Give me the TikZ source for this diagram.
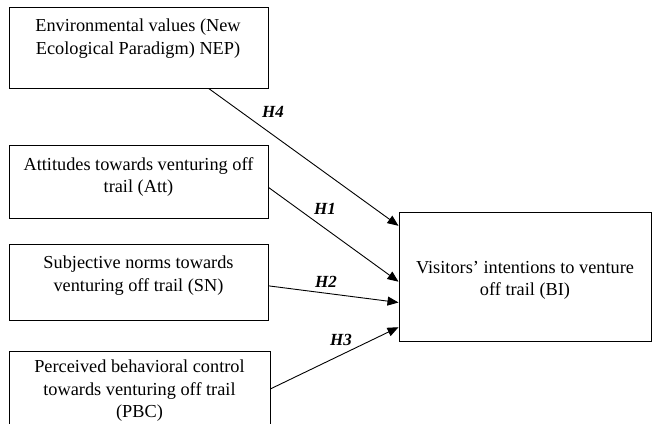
\documentclass[tikz,border=0pt]{standalone}
\usepackage{fontspec}
\setmainfont{Liberation Serif}
\usetikzlibrary{arrows.meta,calc}
\begin{document}
\begin{tikzpicture}[x=1pt,y=-1pt,
  box/.style={draw=black, line width=1pt},
  txt/.style={align=center, font=\fontsize{18.3}{22.5}\selectfont, inner sep=0pt, anchor=north},
  hyp/.style={font=\fontsize{17}{17}\selectfont\bfseries\itshape, inner sep=0pt},
  link/.style={line width=0.9pt, -{Triangle[length=11pt,width=9pt]}}]
\useasboundingbox (0,0) rectangle (653,423);
\clip (0,0) rectangle (653,423);
\fill[white] (0,0) rectangle (653,423);
% boxes
\node[box, minimum width=259pt, minimum height=81pt, inner sep=0pt] (nep) at (138.5,47.5) {};
\node[box, minimum width=259pt, minimum height=73pt, inner sep=0pt] (att) at (138.5,181.5) {};
\node[box, minimum width=259pt, minimum height=76pt, inner sep=0pt] (sn) at (138.5,282) {};
\node[box, minimum width=261pt, minimum height=100pt, inner sep=0pt] (pbc) at (139.5,401) {};
\node[box, minimum width=252pt, minimum height=129pt, inner sep=0pt] (bi) at (525,276.5) {};
% texts
\node[txt] (nept) at (138,19) {Environmental values (New\\Ecological Paradigm) NEP)};
\node[txt] (attt) at (138.5,157) {Attitudes towards venturing off\\trail (Att)};
\node[txt] (snt) at (138.5,256) {Subjective norms towards\\venturing off trail (SN)};
\node[txt] (pbct) at (139.5,360) {Perceived behavioral control\\towards venturing off trail\\(PBC)};
\node[txt] (bit) at (525,261) {Visitors’ intentions to venture\\off trail (BI)};
% connector end points
\coordinate (s4) at ($(nep.south west)!0.77!(nep.south east)$);
\coordinate (e4) at ($(bi.north west)!0.11!(bi.south west)$);
\coordinate (s1) at ($(att.north east)!0.58!(att.south east)$);
\coordinate (e1) at ($(bi.north west)!0.54!(bi.south west)$);
\coordinate (s2) at ($(sn.north east)!0.55!(sn.south east)$);
\coordinate (e2) at ($(bi.north west)!0.70!(bi.south west)$);
\coordinate (s3) at ($(pbc.north east)!0.38!(pbc.south east)$);
\coordinate (e3) at ($(bi.north west)!0.89!(bi.south west)$);
\draw[link] (s4) -- (e4);
\draw[link] (s1) -- (e1);
\draw[link] (s2) -- (e2);
\draw[link] (s3) -- (e3);
% labels
\node[hyp] (h4) at (273,112) {H4};
\node[hyp] (h1) at (325,209) {H1};
\node[hyp] (h2) at (326,282) {H2};
\node[hyp] (h3) at (341,340) {H3};
\end{tikzpicture}
\end{document}
